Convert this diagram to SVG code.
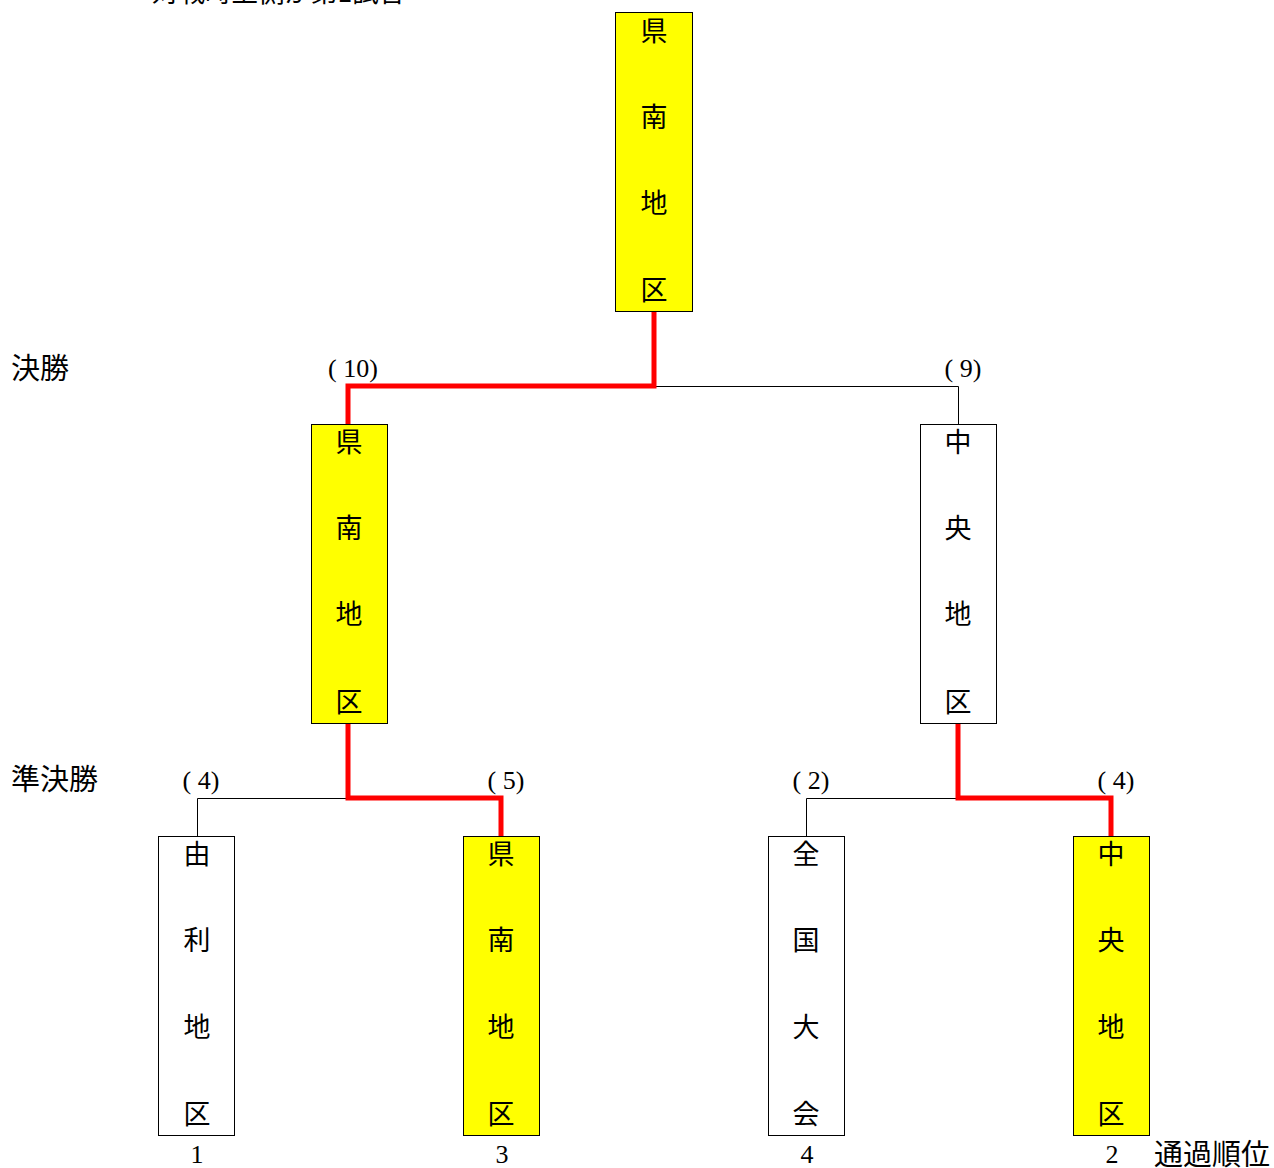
<svg xmlns="http://www.w3.org/2000/svg" width="1274" height="1168" viewBox="0 0 1274 1168">
<style>
.box{stroke:#000;stroke-width:1}
.win{fill:#ffff00}
.lose{fill:#ffffff}
.bt{font-family:"Noto Sans CJK JP","Noto Sans CJK SC",sans-serif;font-size:27px;fill:#000;text-anchor:middle;dominant-baseline:central}
.lab{font-family:"Noto Sans CJK JP","Noto Sans CJK SC",sans-serif;font-size:29px;fill:#000}
.note{font-size:26.5px}
.num{font-family:"Liberation Serif",serif;font-size:26px;fill:#000;text-anchor:middle}
.thin{fill:none;stroke:#000;stroke-width:1}
.red{fill:none;stroke:#ff0000;stroke-width:5}
</style>
<rect width="1274" height="1168" fill="#fff"/>
<g id="labels">
<text class="lab note" x="152" y="2">対戦時上側が第1試合</text>
<text class="lab" x="11" y="379">決勝</text>
<text class="lab" x="11" y="790">準決勝</text>
<text class="lab" x="1154" y="1165">通過順位</text>
</g>
<g id="connectors">
<polyline class="thin" points="654,386.5 958.5,386.5 958.5,424"/>
<polyline class="thin" points="348,798.5 197.5,798.5 197.5,836"/>
<polyline class="thin" points="958,798.5 806.5,798.5 806.5,836"/>
<polyline class="red" points="654,311 654,386 348,386 348,424"/>
<polyline class="red" points="348,723 348,798 501,798 501,836"/>
<polyline class="red" points="958,723 958,798 1111,798 1111,836"/>
</g>
<g id="scores">
<text class="num" x="353" y="377">( 10)</text>
<text class="num" x="963" y="377">( 9)</text>
<text class="num" x="201" y="789">( 4)</text>
<text class="num" x="506" y="789">( 5)</text>
<text class="num" x="811" y="789">( 2)</text>
<text class="num" x="1116" y="789">( 4)</text>
</g>
<g id="champion">
<rect class="box win" x="615.5" y="12.5" width="77" height="299"/>
<text class="bt" x="654" y="29">県</text><text class="bt" x="654" y="115">南</text><text class="bt" x="654" y="201">地</text><text class="bt" x="654" y="288">区</text>
</g>
<g id="final-left">
<rect class="box win" x="311.5" y="424.5" width="76" height="299"/>
<text class="bt" x="349" y="440">県</text><text class="bt" x="349" y="526">南</text><text class="bt" x="349" y="612">地</text><text class="bt" x="349" y="700">区</text>
</g>
<g id="final-right">
<rect class="box lose" x="920.5" y="424.5" width="76" height="299"/>
<text class="bt" x="958" y="440">中</text><text class="bt" x="958" y="526">央</text><text class="bt" x="958" y="612">地</text><text class="bt" x="958" y="700">区</text>
</g>
<g id="team1">
<rect class="box lose" x="158.5" y="836.5" width="76" height="299"/>
<text class="bt" x="197" y="852">由</text><text class="bt" x="197" y="938">利</text><text class="bt" x="197" y="1025">地</text><text class="bt" x="197" y="1112">区</text>
<text class="num" x="197" y="1163">1</text>
</g>
<g id="team2">
<rect class="box win" x="463.5" y="836.5" width="76" height="299"/>
<text class="bt" x="501" y="852">県</text><text class="bt" x="501" y="938">南</text><text class="bt" x="501" y="1025">地</text><text class="bt" x="501" y="1112">区</text>
<text class="num" x="502" y="1163">3</text>
</g>
<g id="team3">
<rect class="box lose" x="768.5" y="836.5" width="76" height="299"/>
<text class="bt" x="806" y="852">全</text><text class="bt" x="806" y="938">国</text><text class="bt" x="806" y="1025">大</text><text class="bt" x="806" y="1112">会</text>
<text class="num" x="807" y="1163">4</text>
</g>
<g id="team4">
<rect class="box win" x="1073.5" y="836.5" width="76" height="299"/>
<text class="bt" x="1111" y="852">中</text><text class="bt" x="1111" y="938">央</text><text class="bt" x="1111" y="1025">地</text><text class="bt" x="1111" y="1112">区</text>
<text class="num" x="1112" y="1163">2</text>
</g>
</svg>
